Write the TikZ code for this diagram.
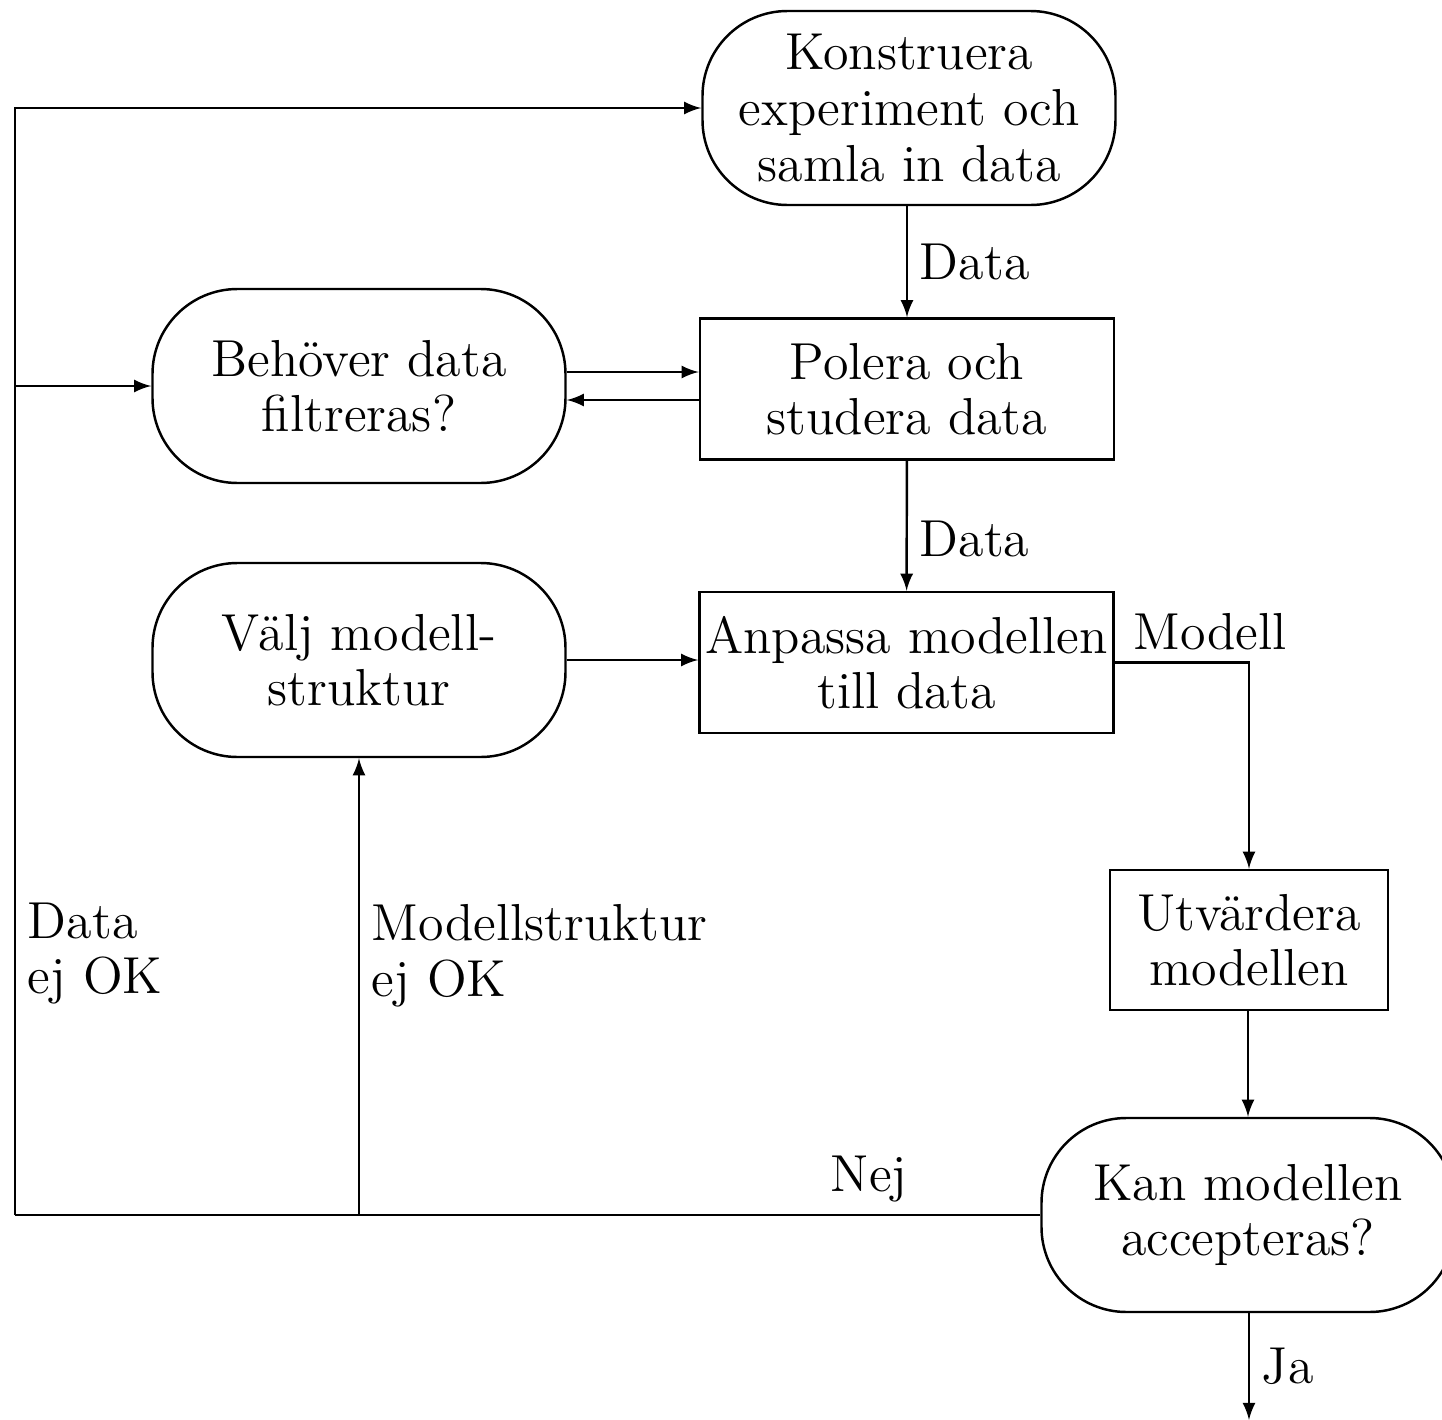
\documentclass[tikz,border=0pt]{standalone}
\usepackage{amsmath}
\usetikzlibrary{arrows}

\begin{document}
\begin{tikzpicture}[font=\fontsize{14.8pt}{15.8pt}\selectfont, line width=0.7pt,
		rundad/.style={draw, align=center, rounded corners=0.85cm, minimum width=4.13cm, minimum height=1.94cm, inner sep=1pt},
		ruta/.style={draw, align=center, minimum width=4.14cm, minimum height=1.41cm, inner sep=1pt}]
					\useasboundingbox (0,0) rectangle (14.42,-14.20);
					% noder
					\node[rundad] (konst) at (9.09,-1.08) {Konstruera\\experiment och\\samla in data};
					\node[ruta] (polera) at (9.07,-3.89) {Polera och\\studera data};
					\node[rundad] (behov) at (3.59,-3.86) {Behöver data\\filtreras?};
					\node[rundad] (valj) at (3.59,-6.60) {Välj modell-\\struktur};
					\node[ruta] (anpassa) at (9.065,-6.625) {Anpassa modellen\\till data};
					\node[ruta, minimum width=2.78cm, minimum height=1.40cm] (utv) at (12.49,-9.40) {Utvärdera\\modellen};
					\node[rundad] (kan) at (12.48,-12.15) {Kan modellen\\accepteras?};
					\coordinate (hn) at (0.15,-12.15);
					\coordinate (ut) at (12.49,-14.20);
					% pilar
					\draw[-latex] (konst.south -| polera.north) -- node[right] {Data} (polera.north);
					\draw[-latex] (polera) -- node[pos=0.6, right] {Data} (anpassa);
					\draw[-latex] ([yshift=0.14cm]behov.east) -- ([yshift=0.14cm]behov.east -| polera.west);
					\draw[-latex] ([yshift=-0.14cm]behov.east -| polera.west) -- ([yshift=-0.14cm]behov.east);
					\draw[-latex] (valj.east) -- (valj.east -| anpassa.west);
					\draw[-latex] (anpassa.east) -| node[pos=0, above right, xshift=0.06cm] {Modell} (utv.north);
					\draw[-latex] (utv.south -| kan.north) -- (kan.north);
					\draw[-latex] (kan.south -| ut) -- node[right] {Ja} (ut);
					% tillbaka
					\draw (kan.west) -- node[pos=0.167, above] {Nej} (hn);
					\draw[-latex] (valj.south |- hn) -- node[pos=0.568, right, align=left] {Modellstruktur\\ej OK} (valj.south);
					\draw[-latex] (hn) -- node[pos=0.236, right, align=left] {Data\\ej OK} (hn |- konst.west) -- (konst.west);
					\draw[-latex] (hn |- behov.west) -- (behov.west);
				\end{tikzpicture}
\end{document}
